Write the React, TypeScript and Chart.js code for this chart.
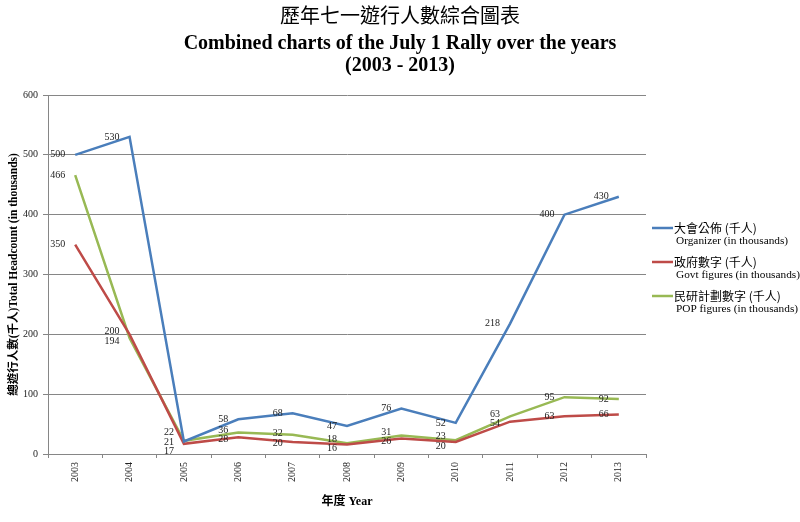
import React, { useEffect, useRef } from "react";
import { Chart, registerables } from "chart.js";

Chart.register(...registerables);

const years = ["2003", "2004", "2005", "2006", "2007", "2008", "2009", "2010", "2011", "2012", "2013"];
const organizer = [500, 530, 21, 58, 68, 47, 76, 52, 218, 400, 430];
const govt = [350, 200, 17, 28, 20, 16, 26, 20, 54, 63, 66];
const pop = [466, 194, 22, 36, 32, 18, 31, 23, 63, 95, 92];
const seriesZh = ["大會公佈 (千人)", "政府數字 (千人)", "民研計劃數字 (千人)"];
const seriesEn = ["Organizer (in thousands)", "Govt figures (in thousands)", "POP figures (in thousands)"];
const seriesColors = ["#4A7EBB", "#BE4B48", "#98B954"];
const titleZh = "歷年七一遊行人數綜合圖表";
const titleEn = ["Combined charts of the July 1 Rally over the years", "(2003 - 2013)"];
const yTitle = "總遊行人數(千人)Total Headcount (in thousands)";
const xTitle = "年度 Year";
const yMin = 0;
const yMax = 600;
const yStep = 100;

const SERIF = '"Liberation Serif", "Noto Sans CJK TC", serif';
const CJK = '"Noto Sans CJK TC", "Liberation Serif", sans-serif';

const dataLabelPlugin = {
  id: "dataLabels",
  afterDatasetsDraw(chart: any) {
    const ctx = chart.ctx;
    const n = chart.data.labels.length;
    ctx.save();
    ctx.font = '10px "Liberation Serif"';
    ctx.fillStyle = "#222";
    ctx.textAlign = "right";
    ctx.textBaseline = "middle";
    const sep = 9.5;
    for (let i = 0; i < n; i++) {
      const items: any[] = [];
      chart.data.datasets.forEach((ds: any, di: number) => {
        const el = chart.getDatasetMeta(di).data[i];
        items.push({ x: el.x, y: el.y, text: String(ds.data[i]) });
      });
      items.sort((a, b) => a.y - b.y);
      let groups: any[] = items.map((it) => ({ items: [it], mean: it.y }));
      let merged = true;
      while (merged) {
        merged = false;
        for (let g = 0; g < groups.length - 1; g++) {
          const a = groups[g];
          const b = groups[g + 1];
          const aBottom = a.mean + ((a.items.length - 1) * sep) / 2;
          const bTop = b.mean - ((b.items.length - 1) * sep) / 2;
          if (bTop - aBottom < sep) {
            const its = a.items.concat(b.items);
            const mean = its.reduce((s: number, t: any) => s + t.y, 0) / its.length;
            groups.splice(g, 2, { items: its, mean });
            merged = true;
            break;
          }
        }
      }
      groups.forEach((g) => {
        const start = g.mean - ((g.items.length - 1) * sep) / 2;
        g.items.forEach((it: any, k: number) => ctx.fillText(it.text, it.x - 10, start + k * sep));
      });
    }
    ctx.restore();
  },
};

const legendPlugin = {
  id: "sideLegend",
  afterDraw(chart: any) {
    const ctx = chart.ctx;
    const area = chart.chartArea;
    const x0 = area.right + 6;
    const mid = (area.top + area.bottom) / 2;
    const y0 = mid - 46.5;
    ctx.save();
    chart.data.datasets.forEach((ds: any, i: number) => {
      const y = y0 + i * 34;
      ctx.strokeStyle = ds.borderColor;
      ctx.lineWidth = 2.5;
      ctx.beginPath();
      ctx.moveTo(x0, y);
      ctx.lineTo(x0 + 21, y);
      ctx.stroke();
      ctx.fillStyle = "#000";
      ctx.textAlign = "left";
      ctx.textBaseline = "middle";
      ctx.font = "12px " + CJK;
      ctx.fillText(seriesZh[i], x0 + 22, y);
      ctx.font = "11.3px " + SERIF;
      ctx.fillText(seriesEn[i], x0 + 24, y + 13.5);
    });
    ctx.restore();
  },
};

export default function App() {
  const ref = useRef<HTMLCanvasElement>(null);
  useEffect(() => {
    if (!ref.current) return;
    const chart = new Chart(ref.current, {
      type: "line",
      data: {
        labels: years,
        datasets: [organizer, govt, pop].map((d, i) => ({
          label: seriesZh[i] + " " + seriesEn[i],
          data: d,
          borderColor: seriesColors[i],
          backgroundColor: seriesColors[i],
          borderWidth: 2.5,
          pointRadius: 0,
          tension: 0,
          fill: false,
          yAxisID: "y",
        })),
      },
      options: {
        responsive: false,
        animation: false,
        layout: { padding: 0 },
        plugins: {
          legend: { display: false },
          tooltip: { enabled: false },
          title: {
            display: true,
            text: titleZh,
            color: "#000",
            font: { family: CJK, size: 20, weight: "normal", lineHeight: 1.2 },
            padding: { top: 3, bottom: 0 },
          },
          subtitle: {
            display: true,
            text: titleEn,
            color: "#000",
            font: { family: SERIF, size: 20, weight: "bold", lineHeight: 1.1 },
            padding: { top: 6, bottom: 18 },
          },
        },
        scales: {
          x: {
            offset: true,
            grid: { offset: true, drawOnChartArea: false, drawTicks: true, tickLength: 4, color: "#868686" },
            border: { color: "#868686" },
            ticks: {
              minRotation: 90,
              maxRotation: 90,
              autoSkip: false,
              padding: 4,
              color: "#222",
              font: { family: SERIF, size: 10 },
            },
            title: {
              display: true,
              text: xTitle,
              color: "#000",
              font: { family: SERIF, size: 12, weight: "bold", lineHeight: 1.2 },
              padding: { top: 0, bottom: 13 },
            },
            afterFit(scale: any) {
              scale.height = 68;
            },
          },
          y: {
            min: yMin,
            max: yMax,
            grid: { color: "#868686", tickLength: 5, drawTicks: true },
            border: { color: "#868686" },
            ticks: {
              stepSize: yStep,
              padding: 5,
              color: "#222",
              font: { family: SERIF, size: 10 },
            },
            title: {
              display: true,
              text: yTitle,
              color: "#000",
              font: { family: SERIF, size: 11.5, weight: "bold", lineHeight: 1.2 },
              padding: { top: 7, bottom: 0 },
            },
            afterFit(scale: any) {
              scale.width = 48;
            },
          },
          legendSpace: {
            type: "linear",
            position: "right",
            display: true,
            min: yMin,
            max: yMax,
            grid: { display: false, drawOnChartArea: false },
            border: { display: false },
            ticks: { display: false },
            afterFit(scale: any) {
              scale.width = 154;
            },
          },
        },
      },
      plugins: [dataLabelPlugin, legendPlugin],
    });
    return () => chart.destroy();
  }, []);
  return (
    <div style={{ position: "absolute", left: 0, top: 0, width: 800, height: 522, background: "#fff" }}>
      <canvas ref={ref} width={800} height={522} style={{ display: "block" }} />
    </div>
  );
}
